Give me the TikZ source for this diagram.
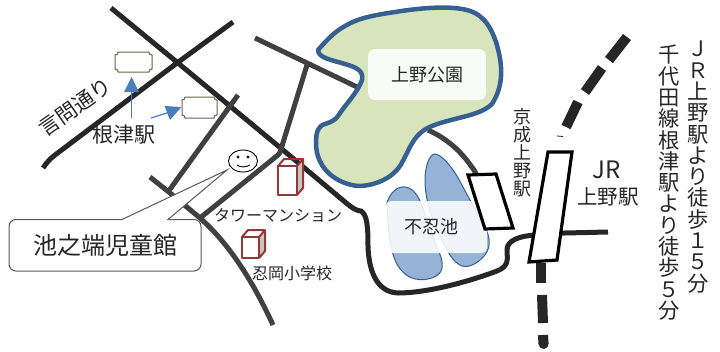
\documentclass[tikz,border=0pt]{standalone}
\usepackage{fontspec}
\newfontfamily\cjk{Noto Sans CJK JP}
\definecolor{roadk}{HTML}{262626}
\definecolor{roadg}{HTML}{404040}
\definecolor{parkb}{HTML}{376092}
\definecolor{parkf}{HTML}{D8E4BC}
\definecolor{pondf}{HTML}{95B3D7}
\definecolor{arrowb}{HTML}{4A7EBB}
\definecolor{cuber}{HTML}{953735}
\definecolor{plaq}{HTML}{6B6347}
\tikzset{
  roadA/.style={draw=roadk,line width=5pt},
  roadB/.style={draw=roadg,line width=5pt},
  track/.style={draw=roadk,line width=10pt},
  stationbox/.style={draw=black,fill=white,line width=3.2pt,line join=miter},
  pond/.style={draw=parkb,fill=pondf,line width=1pt},
  lbl/.style={inner sep=0pt,text=black!85,align=center},
  cubeline/.style={draw=cuber,line width=2pt,line join=round},
  plaque/.style={draw=plaq,fill=white,line width=1pt},
  bluearrow/.style={draw=arrowb,line width=1.2pt},
  bluehead/.style={fill=arrowb,draw=none},
}
\newcommand{\fs}[1]{\fontsize{#1}{#1}\selectfont\cjk}
\newcommand{\cubeshape}[4]{%
  \fill[gray!45] (#1+#3,#2) -- (#1+#3+6,#2-7) -- (#1+#3+6,#2+#4-7) -- (#1+#3,#2+#4) -- cycle;
  \draw[cubeline,fill=white] (#1,#2) rectangle (#1+#3,#2+#4);
  \draw[cubeline] (#1,#2) -- (#1+6,#2-7) -- (#1+#3+6,#2-7) -- (#1+#3+6,#2+#4-7) -- (#1+#3,#2+#4);
  \draw[cubeline] (#1+#3,#2) -- (#1+#3+6,#2-7);
}
\newcommand{\plaqueshape}[4]{%
  \draw[plaque] (#1+3,#2) -- (#3-3,#2) .. controls (#3-3,#2+2) and (#3-2,#2+3) .. (#3,#2+3)
    -- (#3,#4-3) .. controls (#3-2,#4-3) and (#3-3,#4-2) .. (#3-3,#4)
    -- (#1+3,#4) .. controls (#1+3,#4-2) and (#1+2,#4-3) .. (#1,#4-3)
    -- (#1,#2+3) .. controls (#1+2,#2+3) and (#1+3,#2+2) .. (#1+3,#2) -- cycle;
}
\begin{document}
\begin{tikzpicture}[x=1pt,y=-1pt]
\useasboundingbox (0,0) rectangle (720,351);
% roads
\draw[roadA] (43,168) .. controls (47,162) and (50,159) .. (55,155) -- (177,63) -- (233,22);
\draw[roadA] (111,8) -- (178,63) -- (283,150) -- (345,202) .. controls (352,208) and (357,211) .. (361,211)
  .. controls (367,215) and (368,225) .. (368,247)
  .. controls (369,270) and (376,292) .. (398,293)
  .. controls (425,293) and (465,283) .. (497,271)
  .. controls (510,266) and (507,258) .. (507,250)
  .. controls (507,240) and (520,236) .. (535,235)
  -- (565,233) -- (608,232);
\draw[roadB] (238,95) -- (168,192);
\draw[roadB] (150,177) -- (170,193) -- (200,218) .. controls (226,241) and (250,275) .. (273,325);
\draw[roadB] (200,218) -- (278,155) .. controls (281,152) and (281,149) .. (282,146) -- (307,65);
\draw[roadB] (255,38) -- (357,87);
\draw[roadB] (428,130) .. controls (450,140) and (465,155) .. (477,175);
% park
\draw[draw=parkb,fill=parkf,line width=4.5pt,line join=round]
  (318,50) .. controls (326,41) and (334,32) .. (345,26)
  .. controls (358,18) and (375,15) .. (395,12)
  .. controls (420,8) and (445,6) .. (462,9)
  .. controls (482,12) and (490,25) .. (496,42)
  .. controls (503,65) and (504,85) .. (492,104)
  .. controls (480,116) and (455,117) .. (432,126)
  .. controls (412,134) and (410,150) .. (400,166)
  .. controls (392,178) and (375,186) .. (358,186)
  .. controls (338,184) and (316,170) .. (316,143)
  .. controls (316,132) and (318,126) .. (325,124)
  .. controls (332,122) and (336,119) .. (338,116)
  .. controls (345,105) and (358,92) .. (362,80)
  .. controls (364,70) and (355,67) .. (345,64)
  .. controls (332,60) and (318,58) .. cycle;
\fill[white,opacity=.87,rounded corners=7pt] (368,49) rectangle (486,100);
\node[lbl] (park) at (427,75) {\fs{18}上野公園};
% ponds
\draw[pond] (387,203) .. controls (390,192) and (398,186) .. (405,187)
  .. controls (413,188) and (418,195) .. (422,206)
  -- (438,250) .. controls (444,262) and (444,272) .. (436,276)
  .. controls (428,281) and (412,282) .. (403,272)
  .. controls (392,262) and (388,240) .. (387,203) -- cycle;
\draw[pond] (425,180) .. controls (425,165) and (430,154) .. (435,154)
  .. controls (442,155) and (450,165) .. (457,176)
  -- (482,222) .. controls (490,235) and (492,245) .. (485,255)
  .. controls (478,263) and (470,268) .. (462,266)
  .. controls (452,262) and (447,250) .. (442,240)
  .. controls (432,220) and (425,200) .. (425,180) -- cycle;
\fill[white,opacity=.87,rounded corners=5pt] (386,201) -- (487,201) -- (487,253) -- (386,253) -- cycle;
\node[lbl] (pondlabel) at (431,227) {\fs{18}不忍池};
% stations
\draw[stationbox] (468,175) -- (496,174) -- (513,228) -- (485,229) -- cycle;
% tracks
\draw[track] (627,37) -- (609,60);
\draw[track] (602,68) -- (585,92);
\draw[track] (578,102) -- (566,127);
\draw[track] (541,263) -- (541,283);
\draw[track] (542,295) -- (543,323);
\draw[track] (543,335) -- (543.5,344);
\draw[track,line cap=round] (543.5,343) -- (543.6,344);
\draw[draw=roadk,line width=.8pt] (557,136) -- (563,136.5);
\draw[stationbox] (548,152) -- (572,152) -- (557,260) -- (529,262) -- cycle;
% plaques and arrows
\plaqueshape{115}{52}{152}{72}
\plaqueshape{182}{97}{217}{118}
\draw[bluearrow] (131.5,118) -- (131.5,90);
\fill[bluehead] (131.5,77) -- (139,92) -- (124,92) -- cycle;
\draw[bluearrow] (151,118) -- (170,112);
\fill[bluehead] (181.5,107) -- (170,120) -- (164.5,106) -- cycle;
% callout
\draw[draw=black!65,fill=white,line width=1pt,rounded corners=0pt]
  (122,219.5) -- (227,170) -- (168,219.5)
  -- (194,219.5) arc[start angle=-90,end angle=0,radius=7] -- (201,264) arc[start angle=0,end angle=90,radius=7]
  -- (16,271) arc[start angle=90,end angle=180,radius=7] -- (9,226.5) arc[start angle=180,end angle=270,radius=7] -- cycle;
\node[lbl] (callout) at (105,245) {\fs{24}池之端児童館};
% smiley
\draw[black,line width=.9pt] (243,161) ellipse[x radius=14.5,y radius=11];
\draw[black,line width=.7pt] (238,157) circle (1.2);
\draw[black,line width=.7pt] (248,157) circle (1.2);
\draw[black,line width=.9pt] (237,165) .. controls (240,167.5) and (246,167.5) .. (250,165);
% cubes
\cubeshape{278}{166}{19}{29}
\cubeshape{242}{237}{17}{21}
% text
\node[lbl,rotate=35] (road) at (75,107) {\fs{21}言問通り};
\node[lbl] (nezu) at (124,135) {\fs{21}根津駅};
\node[lbl] (tower) at (278,215) {\fs{16}タワーマンション};
\node[lbl] (school) at (292,273) {\fs{16}忍岡小学校};
\node[lbl,font=\fs{18}] (keisei) at (522,153) {京\\成\\上\\野\\駅};
\node[lbl] (jr) at (607,170) {\fs{24}JR};
\node[lbl] (jrs) at (608,197) {\fs{20.5}上野駅};
\node[lbl,anchor=north,font=\fs{21.3}] (walkjr) at (698,41) {Ｊ\\Ｒ\\上\\野\\駅\\よ\\り\\徒\\歩\\１\\５\\分};
\node[lbl,anchor=north,font=\fs{21.3}] (walkc) at (669,45) {千\\代\\田\\線\\根\\津\\駅\\よ\\り\\徒\\歩\\５\\分};
\end{tikzpicture}
\end{document}
